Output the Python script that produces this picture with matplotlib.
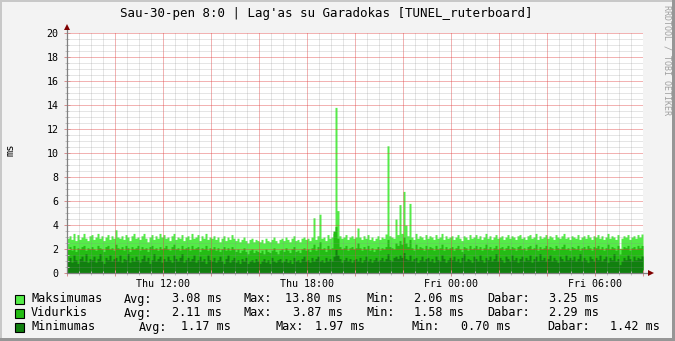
import matplotlib
matplotlib.use('Agg')
import matplotlib.pyplot as plt
import numpy as np
from matplotlib.patches import Rectangle

# 5 minute samples from Thu 08:00 to Fri 08:00 (12 per hour)
max_ms = [
    2.9, 3.1, 2.8, 3.3, 2.7, 3.2, 2.8, 3.0, 3.3, 2.9, 2.7, 3.1,
    3.2, 2.8, 3.0, 3.3, 2.9, 3.1, 2.7, 3.0, 3.2, 2.8, 3.1, 2.9,
    3.6, 3.0, 2.9, 3.1, 2.8, 3.2, 3.0, 2.7, 3.1, 3.3, 2.9, 3.0,
    2.8, 3.1, 3.3, 2.9, 2.6, 3.0, 3.2, 2.8, 3.1, 2.9, 3.3, 3.0,
    3.2, 2.9, 3.0, 2.7, 3.1, 3.3, 2.8, 3.0, 2.9, 3.2, 2.7, 3.0,
    3.1, 2.8, 3.3, 2.9, 3.0, 3.2, 2.7, 3.1, 2.9, 3.3, 2.8, 3.0,
    2.9, 3.1, 2.8, 3.0, 2.6, 2.9, 3.1, 2.7, 3.0, 2.8, 3.2, 2.9,
    2.7, 2.9, 2.6, 2.8, 3.0, 2.7, 2.5, 2.8, 2.9, 2.6, 2.8, 2.7,
    2.6, 2.8, 2.5, 2.9, 2.7, 2.6, 2.8, 3.0, 2.7, 2.5, 2.8, 2.9,
    2.7, 3.0, 2.8, 2.6, 2.9, 3.1, 2.7, 2.8, 2.6, 2.9, 3.0, 2.8,
    2.9, 2.7, 3.0, 4.6, 2.8, 3.1, 4.9, 2.9, 3.0, 2.7, 3.2, 2.9,
    3.0, 3.3, 13.8, 5.2, 3.1, 2.9, 3.0, 3.2, 2.8, 3.0, 3.1, 2.9,
    3.0, 3.75, 3.0, 2.8, 3.1, 2.9, 3.2, 2.8, 3.0, 2.7, 2.9, 3.1,
    2.8, 3.0, 2.9, 3.25, 10.6, 3.1, 3.0, 2.9, 4.5, 3.2, 5.7, 3.3,
    6.8, 4.0, 3.1, 5.8, 3.0, 2.8, 3.3, 2.9, 3.1, 3.0, 2.8, 3.2,
    2.9, 3.1, 3.0, 2.8, 3.2, 2.9, 3.0, 3.3, 2.8, 3.1, 2.9, 3.0,
    3.1, 2.8, 3.0, 3.2, 2.9, 2.7, 3.1, 3.0, 2.8, 3.2, 2.9, 3.0,
    3.2, 2.9, 3.1, 2.8, 3.0, 3.3, 2.9, 3.1, 2.8, 3.0, 3.2, 2.9,
    3.0, 3.1, 2.8, 3.0, 3.2, 2.9, 3.1, 3.0, 2.8, 3.1, 3.2, 2.9,
    3.0, 2.8, 3.1, 3.2, 2.9, 3.0, 3.3, 2.8, 3.1, 2.9, 3.0, 3.2,
    2.9, 3.1, 3.0, 2.8, 3.2, 3.0, 2.9, 3.1, 3.3, 2.9, 3.0, 2.8,
    3.1, 3.0, 2.9, 3.2, 2.8, 3.0, 3.1, 2.9, 3.2, 3.0, 2.8, 3.1,
    3.0, 3.2, 2.9, 3.1, 2.8, 3.0, 3.3, 2.9, 3.1, 3.0, 2.8, 3.2,
    2.06, 2.9, 3.1, 3.0, 3.2, 2.8, 3.0, 3.1, 2.9, 3.2, 3.0, 3.25,
]
avg_ms = [
    2.0, 2.2, 1.9, 2.3, 1.8, 2.1, 2.0, 2.2, 2.3, 1.9, 2.1, 2.0,
    2.2, 2.0, 1.9, 2.3, 2.1, 2.0, 1.8, 2.2, 2.3, 2.0, 2.1, 1.9,
    2.4, 2.1, 2.0, 2.2, 1.9, 2.3, 2.1, 1.8, 2.2, 2.0, 2.1, 2.3,
    1.9, 2.2, 2.0, 2.1, 1.8, 2.2, 2.3, 2.0, 2.1, 1.9, 2.2, 2.0,
    2.1, 2.3, 2.0, 1.9, 2.2, 2.4, 2.0, 2.1, 1.9, 2.3, 2.0, 2.1,
    2.2, 1.9, 2.3, 2.0, 2.1, 2.2, 1.8, 2.1, 2.0, 2.3, 1.9, 2.1,
    2.0, 2.2, 1.9, 2.1, 1.8, 2.0, 2.2, 1.9, 2.1, 1.9, 2.2, 2.0,
    1.8, 2.0, 1.7, 1.9, 2.1, 1.8, 1.6, 1.9, 2.0, 1.7, 1.9, 1.8,
    1.7, 1.9, 1.6, 2.0, 1.8, 1.7, 1.9, 2.1, 1.8, 1.6, 1.9, 2.0,
    1.8, 2.1, 1.9, 1.7, 2.0, 2.2, 1.8, 1.9, 1.7, 2.0, 2.1, 1.9,
    2.0, 1.8, 2.1, 2.4, 1.9, 2.2, 2.6, 2.0, 2.1, 1.8, 2.3, 2.0,
    2.1, 3.5, 3.87, 2.9, 2.2, 2.0, 2.1, 2.3, 1.9, 2.1, 2.2, 2.0,
    2.1, 2.5, 2.1, 1.9, 2.2, 2.0, 2.3, 1.9, 2.1, 1.8, 2.0, 2.2,
    1.9, 2.1, 2.0, 2.2, 2.8, 2.2, 2.1, 2.0, 2.5, 2.3, 2.7, 2.4,
    3.0, 2.5, 2.2, 2.8, 2.1, 1.9, 2.4, 2.0, 2.2, 2.1, 1.9, 2.3,
    2.0, 2.2, 2.1, 1.9, 2.3, 2.0, 2.1, 2.4, 1.9, 2.2, 2.0, 2.1,
    2.2, 1.9, 2.1, 2.3, 2.0, 1.8, 2.2, 2.1, 1.9, 2.3, 2.0, 2.1,
    2.3, 2.0, 2.2, 1.9, 2.1, 2.4, 2.0, 2.2, 1.9, 2.1, 2.3, 2.0,
    2.1, 2.2, 1.9, 2.1, 2.3, 2.0, 2.2, 2.1, 1.9, 2.2, 2.3, 2.0,
    2.1, 1.9, 2.2, 2.3, 2.0, 2.1, 2.4, 1.9, 2.2, 2.0, 2.1, 2.3,
    2.0, 2.2, 2.1, 1.9, 2.3, 2.1, 2.0, 2.2, 2.4, 2.0, 2.1, 1.9,
    2.2, 2.1, 2.0, 2.3, 1.9, 2.1, 2.2, 2.0, 2.3, 2.1, 1.9, 2.2,
    2.1, 2.3, 2.0, 2.2, 1.9, 2.1, 2.4, 2.0, 2.2, 2.1, 1.9, 2.3,
    1.58, 2.0, 2.2, 2.1, 2.3, 1.9, 2.1, 2.2, 2.0, 2.3, 2.1, 2.29,
]
min_ms = [
    1.0, 1.3, 0.9, 1.5, 1.1, 0.8, 1.2, 1.4, 1.0, 1.6, 0.9, 1.2,
    1.1, 1.4, 0.9, 1.2, 1.6, 1.0, 0.8, 1.3, 1.1, 1.5, 1.0, 1.2,
    1.3, 1.0, 1.5, 0.9, 1.2, 1.1, 1.6, 0.9, 1.3, 1.0, 1.4, 1.1,
    0.9, 1.2, 1.5, 1.0, 1.3, 0.8, 1.1, 1.6, 1.0, 1.2, 1.4, 0.9,
    1.2, 1.0, 1.4, 1.1, 0.9, 1.5, 1.2, 1.0, 1.3, 1.6, 0.9, 1.1,
    1.3, 1.0, 1.2, 1.5, 0.9, 1.1, 1.4, 1.0, 1.2, 0.8, 1.5, 1.1,
    1.0, 1.3, 0.9, 1.1, 1.4, 1.0, 0.8, 1.2, 1.5, 0.9, 1.1, 1.3,
    0.9, 1.1, 0.8, 1.2, 1.0, 1.3, 0.8, 1.0, 1.1, 0.9, 1.2, 1.0,
    0.8, 1.0, 1.2, 0.9, 1.1, 0.8, 1.3, 1.0, 0.9, 1.1, 1.2, 0.9,
    1.0, 1.2, 0.9, 1.1, 0.8, 1.3, 1.0, 1.1, 0.9, 1.2, 1.4, 1.0,
    1.1, 0.9, 1.3, 1.0, 1.2, 1.4, 1.0, 1.1, 0.9, 1.3, 1.0, 1.2,
    1.0, 1.4, 1.97, 1.5, 1.2, 0.9, 1.1, 1.3, 1.0, 1.2, 0.9, 1.1,
    1.2, 1.0, 1.3, 0.9, 1.1, 1.4, 1.0, 1.2, 0.9, 1.1, 1.3, 1.0,
    1.1, 1.3, 1.0, 1.2, 1.6, 1.1, 1.0, 1.3, 1.4, 1.2, 1.5, 1.3,
    1.7, 1.2, 1.1, 1.5, 1.0, 1.2, 1.3, 0.9, 1.1, 1.4, 1.0, 1.2,
    1.3, 1.0, 1.2, 0.9, 1.4, 1.1, 1.0, 1.5, 1.2, 0.9, 1.1, 1.3,
    1.1, 1.4, 1.0, 1.2, 0.9, 1.3, 1.6, 1.0, 1.2, 1.1, 0.9, 1.4,
    1.2, 1.0, 1.5, 1.1, 0.9, 1.3, 1.1, 1.4, 1.0, 1.2, 1.6, 1.0,
    1.3, 1.1, 0.9, 1.4, 1.2, 1.0, 1.5, 1.1, 1.3, 0.9, 1.2, 1.4,
    1.0, 1.3, 1.1, 1.5, 0.9, 1.2, 1.4, 1.0, 1.6, 1.1, 1.3, 1.0,
    1.2, 1.5, 1.0, 1.3, 1.1, 0.9, 1.4, 1.2, 1.0, 1.5, 1.1, 1.3,
    1.1, 1.4, 1.0, 1.2, 1.6, 1.0, 1.3, 1.1, 0.9, 1.4, 1.2, 1.0,
    1.3, 1.1, 1.5, 1.0, 1.2, 1.4, 0.9, 1.3, 1.1, 1.6, 1.0, 1.2,
    0.70, 1.0, 1.3, 1.1, 1.5, 1.2, 1.0, 1.4, 1.1, 1.3, 1.2, 1.42,
]

tick_hours = [4, 10, 16, 22]
tick_labels = ['Thu 12:00', 'Thu 18:00', 'Fri 00:00', 'Fri 06:00']

series_names = ['Maksimumas', 'Vidurkis', 'Minimumas']
series_colors = ['#54EC48', '#24BC14', '#11800F']
stats = [
    ['3.08', '13.80', '2.06', '3.25'],
    ['2.11', '3.87', '1.58', '2.29'],
    ['1.17', '1.97', '0.70', '1.42'],
]

W, H = 675, 341
MONO = 'DejaVu Sans Mono'


def px(x, y):
    return x / W, 1 - y / H


fig = plt.figure(figsize=(W / 100, H / 100), dpi=100, facecolor='#F3F3F3')
ax = fig.add_axes([67 / W, 1 - 273 / H, 576 / W, 240 / H])
ax.set_facecolor('white')

x = np.arange(len(max_ms) + 1) / 12
for vals, col in zip([max_ms, avg_ms, min_ms], series_colors):
    ax.fill_between(x, np.append(vals, vals[-1]), step='post', color=col, lw=0)

ax.set_xlim(0, 24)
ax.set_ylim(0, 20)
half = np.arange(0, 24.01, 0.5)
ax.set_xticks(np.arange(0, 25, 2))
ax.set_xticks(half[half % 2 != 0], minor=True)
ax.set_xticklabels([tick_labels[tick_hours.index(h)] if h in tick_hours else ''
                    for h in range(0, 25, 2)])
yhalf = np.arange(0, 20.01, 0.5)
ax.set_yticks(np.arange(0, 21, 2))
ax.set_yticks(yhalf[yhalf % 2 != 0], minor=True)
ax.set_yticklabels([str(v) for v in range(0, 21, 2)])

# rrdtool style grid, drawn over the areas
ax.set_axisbelow(False)
ax.grid(which='major', color='#E04040', alpha=0.4, lw=0.72)
ax.grid(which='minor', color='#8C8C8C', alpha=0.22, lw=0.72)
ax.tick_params(which='major', direction='inout', length=4, width=0.72,
               color='#D89090', labelsize=7.2, pad=2)
ax.tick_params(which='minor', direction='inout', length=2.5, width=0.72,
               color='#C0C0C0')
for lab in ax.get_xticklabels() + ax.get_yticklabels():
    lab.set_family(MONO)
ax.tick_params(axis='y', pad=4)
for s in ax.spines.values():
    s.set_visible(False)

# axes with arrows
ax.plot([0, 0], [0, 1 + 4 / 240], color='#808080', lw=0.9, transform=ax.transAxes,
        clip_on=False, zorder=5)
ax.plot([0, 1 + 6 / 576], [0, 0], color='#808080', lw=0.9, transform=ax.transAxes,
        clip_on=False, zorder=5)
ax.plot([0], [1 + 6 / 240], marker='^', ms=4, color='#800000', mew=0,
        transform=ax.transAxes, clip_on=False, zorder=6)
ax.plot([1 + 8 / 576], [0], marker='>', ms=4, color='#800000', mew=0,
        transform=ax.transAxes, clip_on=False, zorder=6)

fig.text(*px(326, 13), 'Sau-30-pen 8:0 | Lag\'as su Garadokas [TUNEL_ruterboard]',
         ha='center', va='center', family=MONO, fontsize=9)
fig.text(*px(10, 150), 'ms', rotation=90, ha='center', va='center', family=MONO,
         fontsize=7.5)
fig.text(*px(667, 60), 'RRDTOOL / TOBI OETIKER', rotation=270, ha='center',
         va='center', family=MONO, fontsize=6, color='#A0A0A0')

# legend
rows_y = [299, 313, 327]
row_pos = [
    [124, 172, 244, 285, 366, 414, 487, 549],
    [124, 172, 244, 293, 366, 414, 487, 549],
    [139, 181, 276, 315, 412, 461, 547, 610],
]
labels = ['Avg:', 'Max:', 'Min:', 'Dabar:']
for i, (name, col, st) in enumerate(zip(series_names, series_colors, stats)):
    y = rows_y[i]
    bx, by = px(15, y + 4.5)
    fig.patches.append(Rectangle((bx, by), 9 / W, 9 / H, transform=fig.transFigure,
                                 facecolor=col, edgecolor='black', lw=0.8))
    fig.text(*px(31, y), name, ha='left', va='center', family=MONO, fontsize=8.5)
    pos = row_pos[i]
    for k in range(4):
        fig.text(*px(pos[2 * k], y), labels[k], ha='left', va='center', family=MONO,
                 fontsize=8.5)
        fig.text(*px(pos[2 * k + 1], y), st[k] + ' ms', ha='left', va='center',
                 family=MONO, fontsize=8.5)

# shaded frame
fig.patches.append(Rectangle((0, 0), 2 / W, 1, transform=fig.transFigure,
                             facecolor='#C8C8C8', lw=0))
fig.patches.append(Rectangle((0, 1 - 2 / H), 1, 2 / H, transform=fig.transFigure,
                             facecolor='#C8C8C8', lw=0))
fig.patches.append(Rectangle((1 - 3 / W, 0), 3 / W, 1, transform=fig.transFigure,
                             facecolor='#969696', lw=0))
fig.patches.append(Rectangle((0, 0), 1, 3 / H, transform=fig.transFigure,
                             facecolor='#969696', lw=0))

fig.savefig('out.png', dpi=100, facecolor=fig.get_facecolor())
